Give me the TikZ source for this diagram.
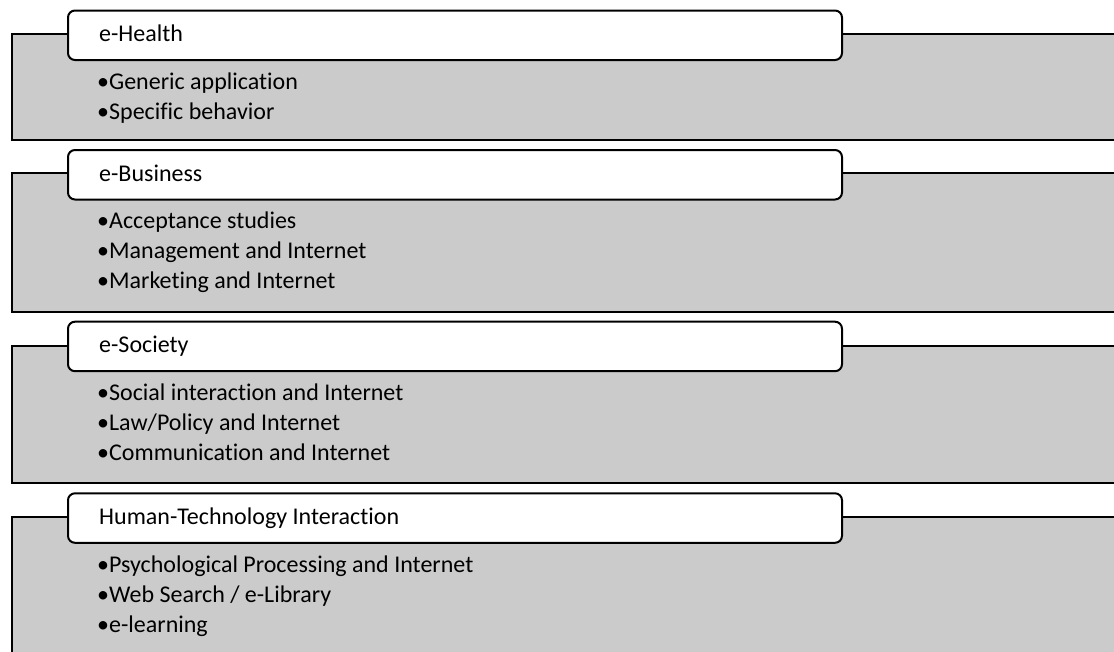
\documentclass[tikz,border=0pt]{standalone}
\usepackage{fontspec}
\setmainfont{Carlito}[Ligatures=NoCommon]
\definecolor{panelgray}{RGB}{203,203,203}
\begin{document}
\begin{tikzpicture}[x=1pt,y=-1pt,
  panel/.style={draw=black, line width=2pt, fill=panelgray},
  titlebox/.style={draw=black, line width=2pt, fill=white, rounded corners=7pt,
    minimum width=774pt, minimum height=49.5pt, anchor=north west, inner sep=0pt},
  label/.style={anchor=base west, inner sep=0pt, font=\fontsize{24}{30}\selectfont}]
\useasboundingbox (0,0) rectangle (1114,651);
\clip (0,0) rectangle (1114,651);
% group 1
\path[panel] (12,33.5) rectangle (1130,140);
\node[titlebox] (t1) at (67,9.5) {};
\node[label] (t1l) at (99,41.7) {e-Health};
\node[label] (t1a) at (97,89.3) {•Generic application};
\node[label] (t1b) at (97,119.3) {•Specific behavior};
% group 2
\path[panel] (12,173.3) rectangle (1130,311.7);
\node[titlebox] (t2) at (67,149) {};
\node[label] (t2l) at (99,181.2) {e-Business};
\node[label] (t2a) at (97,228.8) {•Acceptance studies};
\node[label] (t2b) at (97,258.8) {•Management and Internet};
\node[label] (t2c) at (97,288.8) {•Marketing and Internet};
% group 3
\path[panel] (12,345.7) rectangle (1130,483.3);
\node[titlebox] (t3) at (67,320.7) {};
\node[label] (t3l) at (99,352.9) {e-Society};
\node[label] (t3a) at (97,400.5) {•Social interaction and Internet};
\node[label] (t3b) at (97,430.5) {•Law/Policy and Internet};
\node[label] (t3c) at (97,460.5) {•Communication and Internet};
% group 4
\path[panel] (12,517.3) rectangle (1130,680);
\node[titlebox] (t4) at (67,492.3) {};
\node[label] (t4l) at (99,524.5) {Human-Technology Interaction};
\node[label] (t4a) at (97,572.1) {•Psychological Processing and Internet};
\node[label] (t4b) at (97,602.1) {•Web Search / e-Library};
\node[label] (t4c) at (97,632.1) {•e-learning};
\end{tikzpicture}
\end{document}
